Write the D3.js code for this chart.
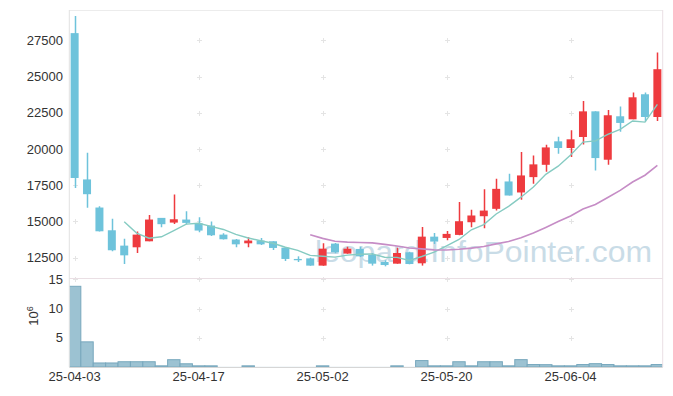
<!DOCTYPE html>
<html>
<head>
<meta charset="utf-8">
<script src="https://d3js.org/d3.v7.min.js"></script>
<style>
  body { margin: 0; background: #fff; }
  text { font-family: "Liberation Sans", Arial, sans-serif; }
</style>
</head>
<body>
<svg width="673" height="396"></svg>
<script>
// trading days (yy-mm-dd)
const dates = [
  "25-04-03","25-04-04","25-04-07","25-04-08","25-04-09","25-04-10","25-04-11","25-04-14","25-04-15","25-04-16",
  "25-04-17","25-04-18","25-04-21","25-04-22","25-04-23","25-04-24","25-04-25","25-04-28","25-04-29","25-04-30",
  "25-05-02","25-05-07","25-05-08","25-05-09","25-05-12","25-05-13","25-05-14","25-05-15","25-05-16","25-05-19",
  "25-05-20","25-05-21","25-05-22","25-05-23","25-05-26","25-05-27","25-05-28","25-05-29","25-05-30","25-06-02",
  "25-06-04","25-06-05","25-06-09","25-06-10","25-06-11","25-06-12","25-06-13","25-06-16"
];
const open = [28000,17900,15960,14390,13330,13215,13630,15245,14920,15130,
  14880,14715,14090,13750,13490,13680,13630,13190,12410,12450,
  11950,13470,12780,13100,12685,12200,12085,12870,12110,13950,
  13860,14070,14945,15360,15870,17760,17000,18060,18910,20530,
  20070,20830,22600,19260,22260,22050,23780,22210];
const high = [29180,19750,16050,15180,13810,14300,15450,15245,16860,15710,
  15290,14990,14180,13790,13910,13860,13630,13240,12590,12500,
  13490,13515,13260,13260,12820,12315,13190,12915,14620,14210,
  14345,16350,15800,17230,17945,18290,19790,19560,20300,20850,
  21290,23320,22600,22700,22930,23900,23900,26665];
const low = [17300,15940,14300,12940,12060,12820,13630,14600,14830,14780,
  14250,14000,13750,13210,13215,13380,13030,12270,12200,11940,
  11940,12800,12770,12540,11950,11900,12080,12040,11950,13450,
  13700,14050,14600,14530,15750,16790,16490,17600,18430,19675,
  19445,20320,18520,18910,21200,22050,21910,21940];
const close = [18000,16880,14320,13010,12660,14090,15130,14810,15150,14900,
  14370,14045,13770,13420,13680,13420,13170,12410,12320,11950,
  13120,12870,13120,12590,12085,11990,12820,12060,13950,13610,
  14140,15015,15410,15750,17250,16790,18175,18940,20110,20070,
  20670,22600,19375,22330,21800,23570,22210,25510];
// volume, millions of shares
const volume = [13.8,4.3,0.69,0.69,0.9,0.9,0.9,0.2,1.25,0.55,
  0.2,0.2,0.02,0.02,0.2,0.02,0.02,0.02,0.02,0.02,
  0.2,0.02,0.02,0.02,0.02,0.02,0.2,0.02,1.1,0.2,
  0.2,0.9,0.2,0.9,0.9,0.2,1.26,0.42,0.4,0.2,
  0.2,0.42,0.57,0.42,0.2,0.2,0.2,0.42];
const priceTicks = [12500,15000,17500,20000,22500,25000,27500];
const volumeTicks = [5,10,15];
const dateTickIdx = [0,10,20,30,40];

const svg = d3.select("svg");
const left = 69.3, right = 662.7;
const mainTop = 10, mainBottom = 278, volTop = 278, volBottom = 367;

const x = d3.scaleLinear().domain([-0.43, 47.43]).range([left, right]);
const step = x(1) - x(0);
const y = d3.scaleLinear().domain([11095, 29597]).range([mainBottom, mainTop]);
const yv = d3.scaleLinear().domain([0, 15.22]).range([volBottom, volTop]);

// moving averages from the closes
function ma(n) {
  return close.map((c, i) => i < n - 1 ? null : d3.mean(close.slice(i - n + 1, i + 1)));
}
const ma5 = ma(5), ma20 = ma(20);

svg.append("clipPath").attr("id", "clip")
  .append("rect").attr("x", left).attr("y", mainTop)
  .attr("width", right - left).attr("height", volBottom - mainTop);

// grid crosses
const grid = svg.append("g").attr("stroke", "#e4e4e4").attr("stroke-width", 1);
function crosses(ys) {
  dateTickIdx.forEach(i => ys.forEach(yy => {
    const cx = Math.round(x(i)) + 0.5, cy = Math.round(yy) + 0.5;
    grid.append("line").attr("x1", cx - 2.5).attr("x2", cx + 2.5).attr("y1", cy).attr("y2", cy);
    grid.append("line").attr("x1", cx).attr("x2", cx).attr("y1", cy - 2.5).attr("y2", cy + 2.5);
  }));
}
crosses(priceTicks.map(y));
crosses(volumeTicks.map(yv));

// watermark
svg.append("text")
  .attr("x", 315).attr("y", 262)
  .attr("font-family", "DejaVu Sans")
  .attr("font-size", 30)
  .attr("textLength", 337).attr("lengthAdjust", "spacingAndGlyphs")
  .attr("fill", "#c9dce7")
  .text("leopard.InfoPointer.com");

const plot = svg.append("g").attr("clip-path", "url(#clip)");

// volume bars
plot.append("g").selectAll("rect").data(volume).join("rect")
  .attr("x", (d, i) => x(i) - step / 2)
  .attr("width", step)
  .attr("y", d => yv(d))
  .attr("height", d => yv(0) - yv(d))
  .attr("fill", "#9cc2d2")
  .attr("stroke", d => d > 0.05 ? "#78a8bd" : "none")
  .attr("stroke-width", 1);

// candles
const up = "#ee3b3f", down = "#6ec3db";
const candles = plot.append("g").selectAll("g").data(dates).join("g");
candles.append("line")
  .attr("x1", (d, i) => Math.round(x(i)) + 0.5)
  .attr("x2", (d, i) => Math.round(x(i)) + 0.5)
  .attr("y1", (d, i) => y(high[i]))
  .attr("y2", (d, i) => y(low[i]))
  .attr("stroke", (d, i) => close[i] >= open[i] ? up : down)
  .attr("stroke-width", 1.5);
candles.append("rect")
  .attr("x", (d, i) => x(i) - 4)
  .attr("width", 8)
  .attr("y", (d, i) => y(Math.max(open[i], close[i])))
  .attr("height", (d, i) => Math.max(1, Math.abs(y(open[i]) - y(close[i]))))
  .attr("fill", (d, i) => close[i] >= open[i] ? up : down);

// moving average lines
const line = d3.line()
  .defined(d => d != null)
  .x((d, i) => x(i))
  .y(d => y(d));
plot.append("path").attr("d", line(ma5))
  .attr("fill", "none").attr("stroke", "#86cbc2").attr("stroke-width", 1.4);
plot.append("path").attr("d", line(ma20))
  .attr("fill", "none").attr("stroke", "#c68dc6").attr("stroke-width", 1.6);

// frame
const frame = svg.append("g").attr("fill", "none");
frame.append("line").attr("x1", left).attr("x2", right).attr("y1", mainTop + 0.5).attr("y2", mainTop + 0.5).attr("stroke", "#ececec");
frame.append("line").attr("x1", left).attr("x2", right).attr("y1", volTop + 0.5).attr("y2", volTop + 0.5).attr("stroke", "#eadfe4");
frame.append("line").attr("x1", left).attr("x2", left).attr("y1", mainTop).attr("y2", volBottom).attr("stroke", "#e2e2e2");
frame.append("line").attr("x1", right).attr("x2", right).attr("y1", mainTop).attr("y2", volBottom).attr("stroke", "#eadfe4");
frame.append("line").attr("x1", left).attr("x2", right).attr("y1", volBottom + 0.5).attr("y2", volBottom + 0.5).attr("stroke", "#d6d6d6");

// axis labels
const labels = svg.append("g").attr("font-size", 13).attr("fill", "#333");
labels.selectAll(".py").data(priceTicks).join("text")
  .attr("x", 63).attr("y", d => y(d)).attr("dy", "0.35em")
  .attr("text-anchor", "end").text(d => d);
labels.selectAll(".vy").data(volumeTicks).join("text")
  .attr("x", 63).attr("y", d => yv(d)).attr("dy", "0.35em")
  .attr("text-anchor", "end").text(d => d);
labels.selectAll(".dx").data(dateTickIdx).join("text")
  .attr("x", i => x(i)).attr("y", 381)
  .attr("text-anchor", "middle").text(i => dates[i]);

const unit = labels.append("text")
  .attr("transform", "translate(38,316) rotate(-90)")
  .attr("text-anchor", "middle");
unit.append("tspan").text("10");
unit.append("tspan").attr("dy", -5).attr("font-size", 9).text("6");
</script>
</body>
</html>
